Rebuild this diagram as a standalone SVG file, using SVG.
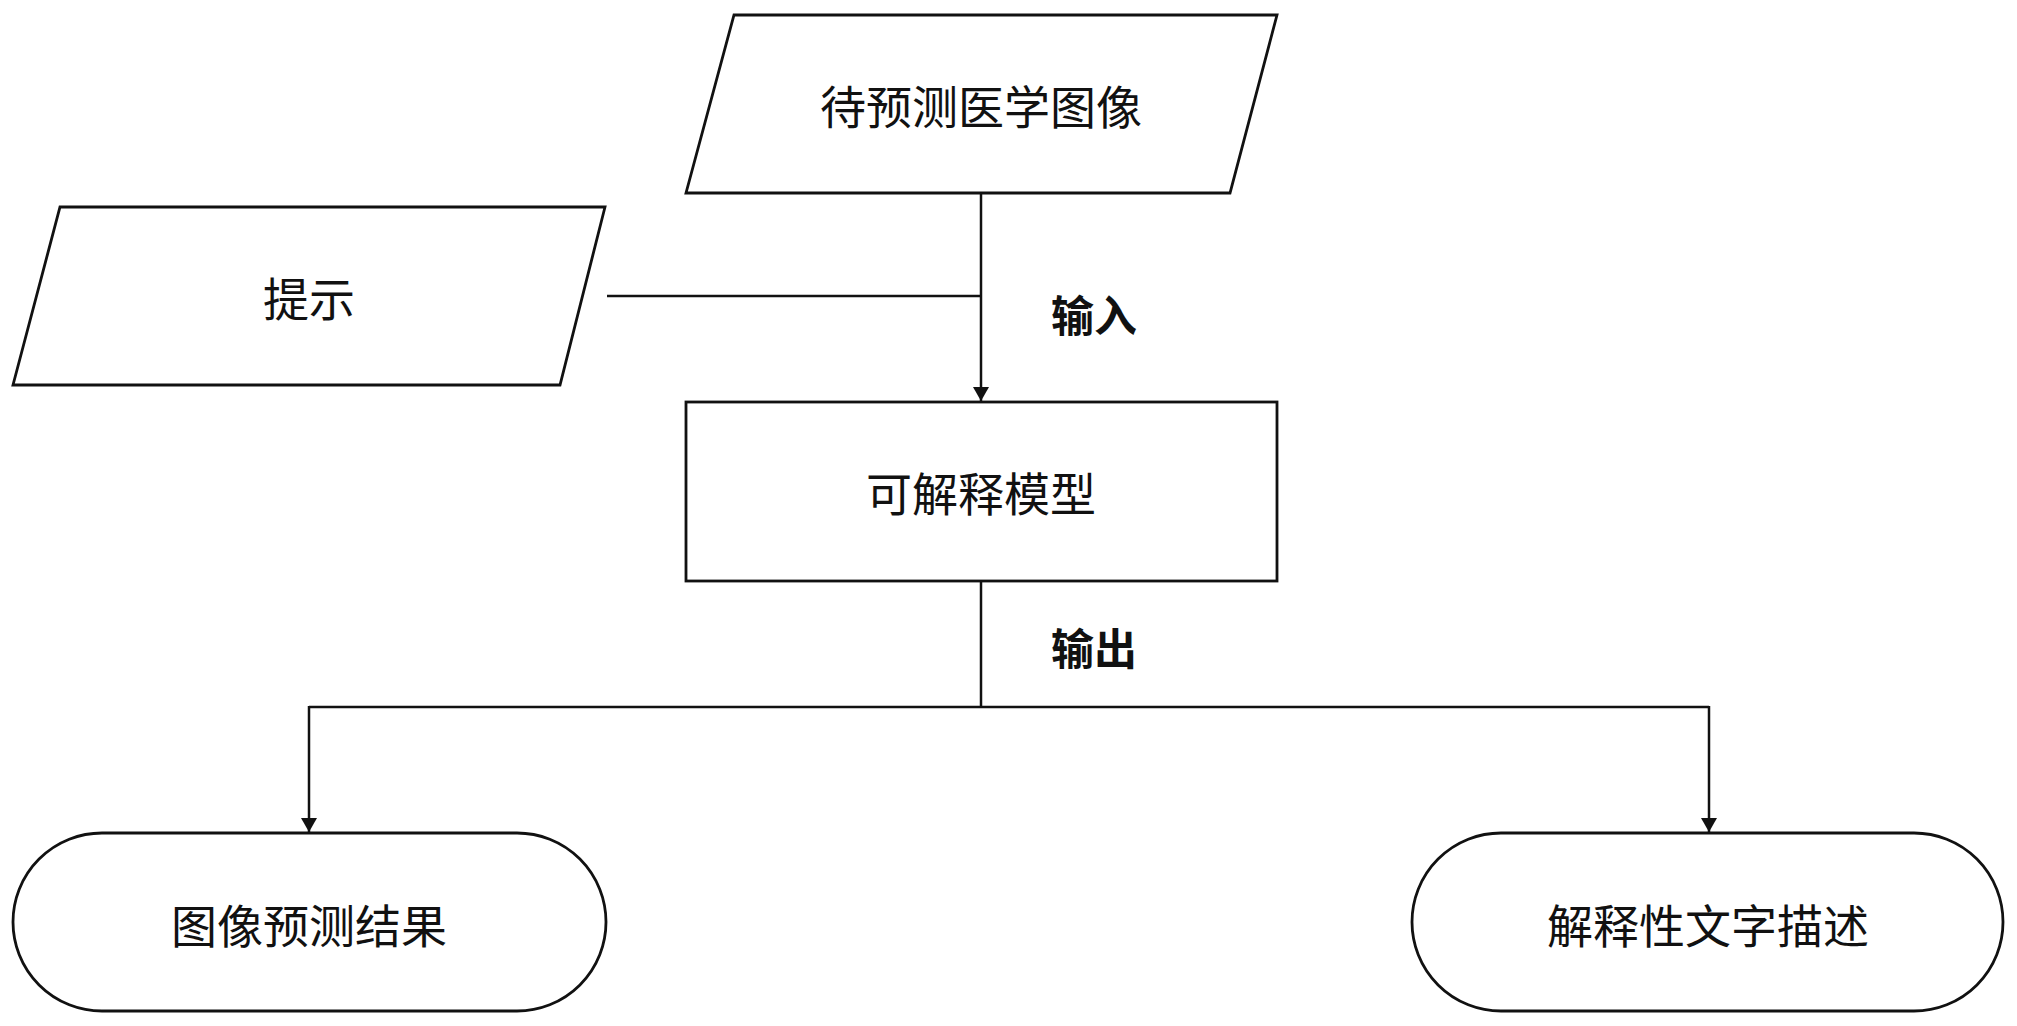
<svg xmlns="http://www.w3.org/2000/svg" width="2017" height="1026" viewBox="0 0 2017 1026">
<defs>
<style>
.shape{fill:#fff;stroke:#111;stroke-width:2.8}
.t{font-family:"Noto Sans CJK SC","Noto Sans",sans-serif;font-size:46px;fill:#111;text-anchor:middle;dominant-baseline:central}
.lbl{font-family:"Noto Sans CJK SC","Noto Sans",sans-serif;font-size:43px;font-weight:bold;fill:#111;text-anchor:middle;dominant-baseline:central}
.c{fill:none;stroke:#111;stroke-width:2.5}
</style>
<marker id="arr" viewBox="0 0 14 16" refX="14" refY="8" markerWidth="14" markerHeight="16" markerUnits="userSpaceOnUse" orient="auto">
<path d="M0,0 L14,8 L0,16 Z" fill="#111"/>
</marker>
</defs>
<rect width="2017" height="1026" fill="#fff"/>
<g id="connectors">
<line class="c" x1="981" y1="193" x2="981" y2="401" marker-end="url(#arr)"/>
<line class="c" x1="607" y1="296" x2="981" y2="296"/>
<polyline class="c" points="981,580 981,707"/>
<line class="c" x1="309" y1="707" x2="1709" y2="707"/>
<line class="c" x1="309" y1="706" x2="309" y2="832" marker-end="url(#arr)"/>
<line class="c" x1="1709" y1="706" x2="1709" y2="832" marker-end="url(#arr)"/>
<text class="lbl" x="1094" y="313">输入</text>
<text class="lbl" x="1094" y="646">输出</text>
</g>
<g id="node-image">
<polygon class="shape" points="734,15 1277,15 1230,193 686,193"/>
<text class="t" x="981" y="104">待预测医学图像</text>
</g>
<g id="node-prompt">
<polygon class="shape" points="60,207 605,207 560,385 13,385"/>
<text class="t" x="309" y="296">提示</text>
</g>
<g id="node-model">
<rect class="shape" x="686" y="402" width="591" height="179"/>
<text class="t" x="981" y="491">可解释模型</text>
</g>
<g id="node-result">
<rect class="shape" x="13" y="833" width="593" height="178" rx="89" ry="89"/>
<text class="t" x="309" y="923">图像预测结果</text>
</g>
<g id="node-explain">
<rect class="shape" x="1412" y="833" width="591" height="178" rx="89" ry="89"/>
<text class="t" x="1708" y="923">解释性文字描述</text>
</g>
</svg>
